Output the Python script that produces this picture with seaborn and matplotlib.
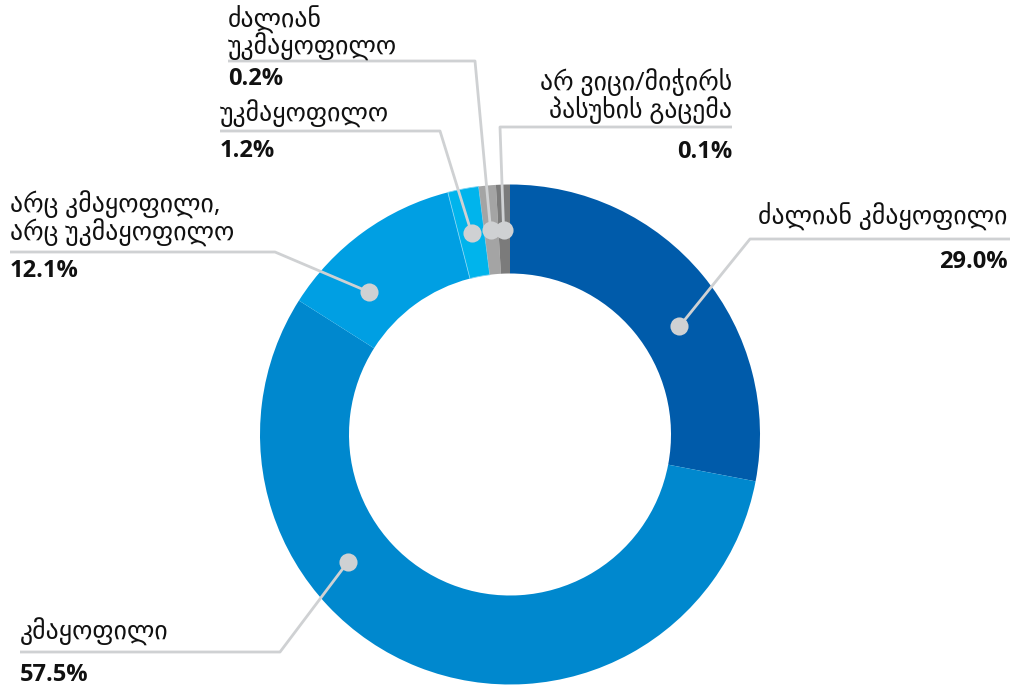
import numpy as np
import matplotlib
matplotlib.use("Agg")
import matplotlib.pyplot as plt
import seaborn as sns

# satisfaction survey, donut
categories = [
    "ძალიან კმაყოფილი",
    "კმაყოფილი",
    "არც კმაყოფილი,\nარც უკმაყოფილო",
    "უკმაყოფილო",
    "ძალიან\nუკმაყოფილო",
    "არ ვიცი/მიჭირს\nპასუხის გაცემა",
]
pct_labels = [29.0, 57.5, 12.1, 1.2, 0.2, 0.1]
# slice sizes as drawn in the picture (small slices are drawn wider than their value)
arc_share = [28.0, 56.0, 12.0, 2.0, 1.1, 0.9]
colors = ["#005BAA", "#0088CE", "#009FE3", "#00B4EC", "#A4A4A4", "#7B7B7B"]

W, H = 1013, 686
cx, cy, R, ring = 510, H - 434.5, 250, 89

# label layout in pixel coords (y from top): dot position inside wedge, elbow, line end, text
layout = [
    dict(f=0.57, r=201, elbow=(750, 239), end=1010, tx=1008, ha="right", ny=[217], py=262),
    dict(f=0.65, r=206, elbow=(280, 652), end=20, tx=20, ha="left", ny=[632], py=675),
    dict(f=0.30, r=200, elbow=(275, 252), end=10, tx=10, ha="left", ny=[205, 233], py=271),
    dict(f=0.50, r=205, elbow=(440, 131), end=220, tx=220, ha="left", ny=[114], py=151),
    dict(f=0.45, r=205, elbow=(475, 61), end=228, tx=228, ha="left", ny=[20, 47], py=79),
    dict(f=0.45, r=205, elbow=(500, 127), end=732, tx=732, ha="right", ny=[82, 110], py=152),
]

sns.set_theme(style="white")
plt.rcParams["font.family"] = ["Open Sans", "DejaVu Sans"]

fig = plt.figure(figsize=(W / 100, H / 100), dpi=100)
ax = fig.add_axes([0, 0, 1, 1])

wedges, _ = ax.pie(arc_share, colors=colors, startangle=90, counterclock=False,
                   center=(cx, cy), radius=R, frame=True,
                   wedgeprops=dict(width=ring, linewidth=0))
ax.set_xlim(0, W)
ax.set_ylim(0, H)
ax.set_aspect("equal")
ax.axis("off")

# thin light seam between the two light-blue slices
wedges[3].set_edgecolor("#7FD3F3")
wedges[3].set_linewidth(0.6)

line_c = "#CFD1D3"
for w, name, pct, lay in zip(wedges, categories, pct_labels, layout):
    # counterclock=False: slice runs from theta2 down to theta1
    th = np.deg2rad(w.theta2 - (w.theta2 - w.theta1) * lay["f"])
    dx, dy = cx + lay["r"] * np.cos(th), cy + lay["r"] * np.sin(th)
    ex, ey = lay["elbow"][0], H - lay["elbow"][1]
    ax.plot([dx, ex, lay["end"]], [dy, ey, ey], color=line_c, lw=2, zorder=3,
            solid_capstyle="butt")
    ax.scatter([dx], [dy], s=170, color=line_c, zorder=4, linewidths=0)
    for k, ln in enumerate(name.split("\n")):
        ax.text(lay["tx"], H - lay["ny"][k], ln, ha=lay["ha"], va="center",
                fontsize=18.5, color="#111111")
    ax.text(lay["tx"], H - lay["py"], f"{pct:.1f}%", ha=lay["ha"], va="center",
            fontsize=17, fontweight="bold", color="#111111")

fig.savefig("out.png", dpi=100)
